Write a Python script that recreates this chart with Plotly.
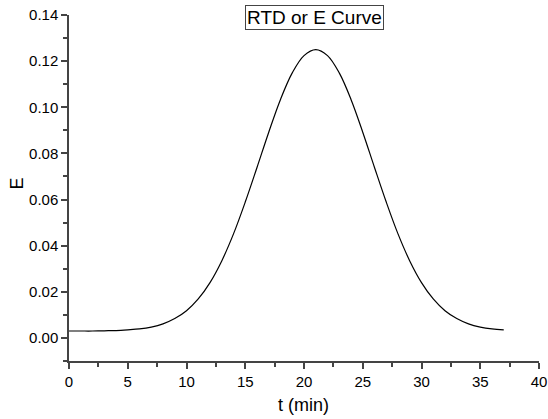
import plotly.graph_objects as go

t_min = list(range(0, 38))
E_vals = [0.0030, 0.0030, 0.0030, 0.0031, 0.0032, 0.0035, 0.0039, 0.0047, 0.0061, 0.0084,
          0.0118, 0.0169, 0.0240, 0.0334, 0.0451, 0.0589, 0.0739, 0.0892, 0.1034, 0.1149,
          0.1224, 0.1250, 0.1224, 0.1149, 0.1034, 0.0892, 0.0739, 0.0589, 0.0451, 0.0334,
          0.0240, 0.0169, 0.0118, 0.0084, 0.0061, 0.0047, 0.0039, 0.0035]
title_text = "RTD or E Curve"
x_label = "t (min)"
y_label = "E"

FONT = "Liberation Sans, Arial"

fig = go.Figure()
fig.add_trace(go.Scatter(x=t_min, y=E_vals, mode="lines",
                         line=dict(color="black", width=1.2, shape="spline", smoothing=1.0),
                         showlegend=False, hoverinfo="skip"))

axis_common = dict(showgrid=False, zeroline=False, showline=True, linecolor="#444", linewidth=1.5,
                   ticks="outside", ticklen=6, tickwidth=1.5, tickcolor="#444",
                   tickfont=dict(family=FONT, size=15, color="black"),
                   mirror=False, automargin=False)

fig.update_xaxes(range=[0, 40], dtick=5, tick0=0,
                 minor=dict(ticks="outside", ticklen=4, dtick=2.5, tick0=0, tickcolor="#444", tickwidth=1.5),
                 **axis_common)
fig.update_yaxes(range=[-0.01, 0.14], dtick=0.02, tick0=0, tickformat=".2f",
                 minor=dict(ticks="outside", ticklen=4, dtick=0.01, tick0=0, tickcolor="#444", tickwidth=1.5),
                 **axis_common)

fig.add_annotation(text=title_text, xref="paper", yref="paper", x=0.522, y=0.994,
                   xanchor="center", yanchor="middle", showarrow=False,
                   font=dict(family=FONT, size=19, color="black"),
                   bordercolor="#444", borderwidth=1, borderpad=1, bgcolor="white")
fig.add_annotation(text=x_label, xref="paper", yref="paper", x=0.499, y=-0.127,
                   xanchor="center", yanchor="middle", showarrow=False,
                   font=dict(family=FONT, size=18, color="black"))
fig.add_annotation(text=y_label, xref="paper", yref="paper", x=-0.11, y=0.514,
                   xanchor="center", yanchor="middle", showarrow=False, textangle=-90,
                   font=dict(family=FONT, size=18, color="black"))

fig.update_layout(width=548, height=419, plot_bgcolor="white", paper_bgcolor="white",
                  margin=dict(l=69, r=9, t=15, b=58))

fig.write_html("out.html", config={"displayModeBar": False},
               post_script="document.body.style.margin='0';document.body.style.overflow='hidden';")
